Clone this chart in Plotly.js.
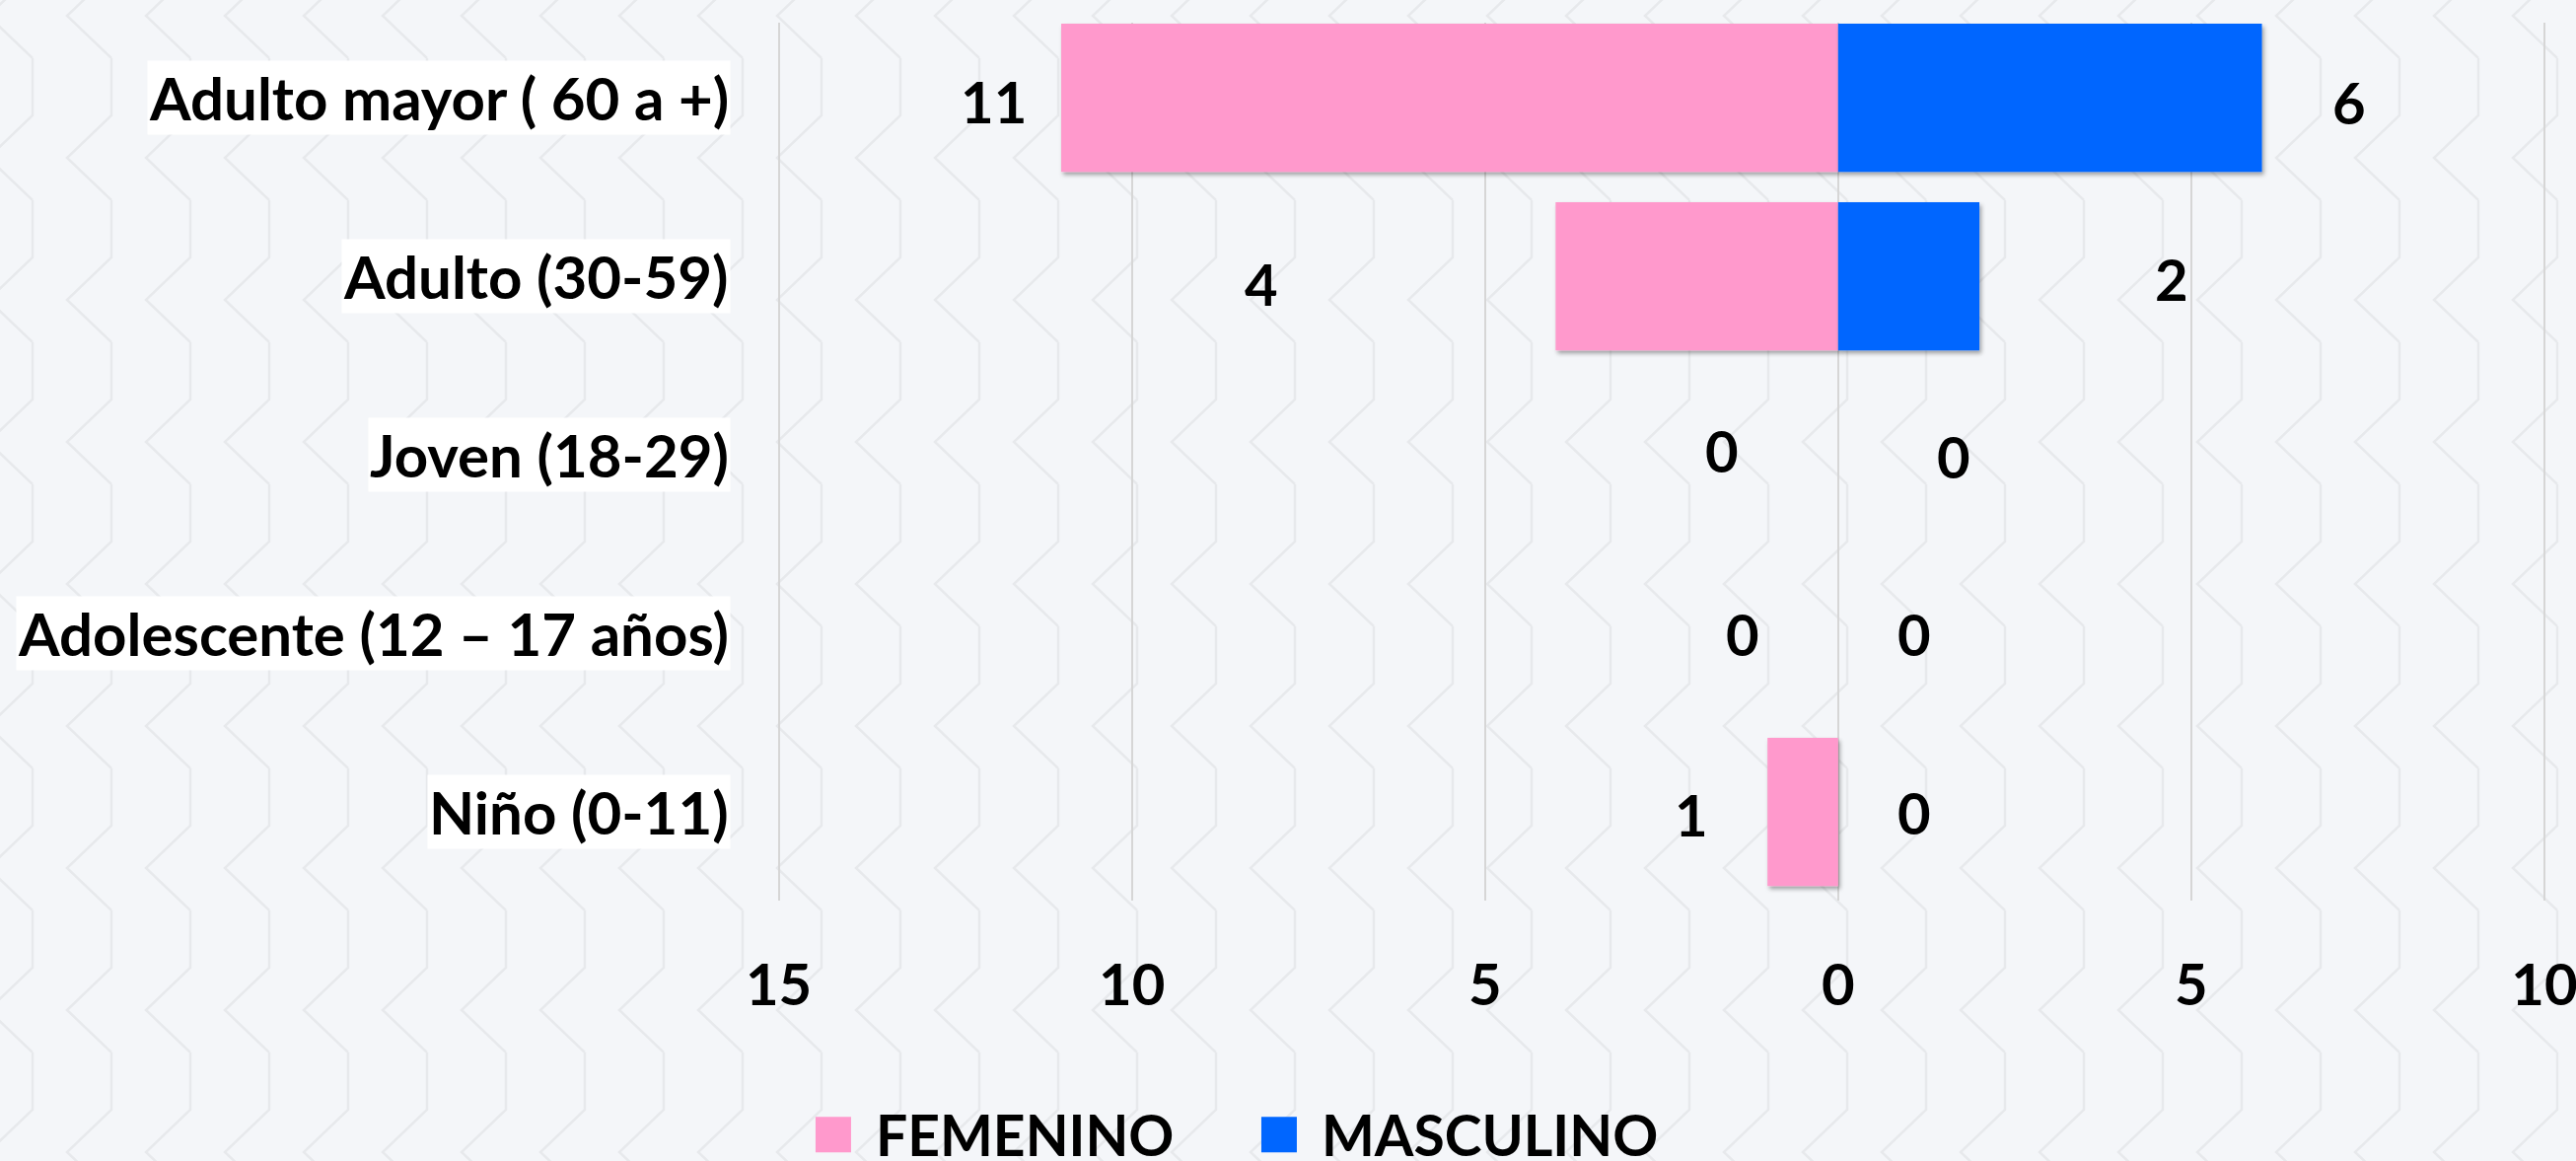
<!DOCTYPE html>
<html>
<head>
<meta charset="utf-8">
<script src="https://cdn.plot.ly/plotly-3.0.1.min.js"></script>
<style>
html, body { margin: 0; padding: 0; width: 2612px; height: 1177px; overflow: hidden; }
body {
  background-color: #f4f6f9;
  background-image: url("data:image/svg+xml,%3Csvg xmlns='http://www.w3.org/2000/svg' width='80' height='144'%3E%3Cpath d='M53,0 V58 L8,101 L53,144' fill='none' stroke='%23e7e9ec' stroke-width='2.5'/%3E%3C/svg%3E");
  background-position: 60px 59px;
}
#chart { width: 2612px; height: 1177px; }
</style>
</head>
<body>
<div id="chart"></div>
<script>
// ---- data ----
const categories = ['Niño (0-11)', 'Adolescente (12 – 17 años)', 'Joven (18-29)', 'Adulto (30-59)', 'Adulto mayor ( 60 a +)'];
const femenino = [1, 0, 0, 4, 11];
const masculino = [0, 0, 0, 2, 6];
const tickValues = [-15, -10, -5, 0, 5, 10];
const tickLabels = ['15', '10', '5', '0', '5', '10'];
const seriesNames = ['FEMENINO', 'MASCULINO'];

// ---- style ----
const femColor = '#FF99CC';
const mascColor = '#0066FF';
const FONT = { family: 'Lato, "Open Sans", sans-serif', size: 58, weight: 700, color: '#000000' };
const CAT_FONT = { family: 'Lato, "Open Sans", sans-serif', size: 60, weight: 700, color: '#000000' };
const LEG_FONT = { family: 'Lato, "Open Sans", sans-serif', size: 57, weight: 700, color: '#000000' };
// label offsets in pixels [dx, dy] (manual placement as in the original)
const femLabelShift = [[-77, -2], [-97, 0], [-118, 5], [-298, -7], [-69, -3]];
const mascLabelShift = [[77, 0], [77, 0], [117, -1], [195, -2], [88, -4]];

const traces = [
  {
    type: 'bar', orientation: 'h', name: seriesNames[0],
    y: categories, x: femenino.map(v => -v),
    marker: { color: femColor, line: { width: 0 } },
    width: 0.83, hoverinfo: 'skip'
  },
  {
    type: 'bar', orientation: 'h', name: seriesNames[1],
    y: categories, x: masculino,
    marker: { color: mascColor, line: { width: 0 } },
    width: 0.83, hoverinfo: 'skip'
  }
];

const annotations = [];
categories.forEach((c, i) => {
  annotations.push({
    xref: 'paper', x: 0, xanchor: 'right', xshift: -45,
    yref: 'y', y: c, yanchor: 'middle',
    text: c, showarrow: false, bgcolor: '#ffffff', borderpad: 1,
    font: CAT_FONT
  });
  annotations.push({
    xref: 'x', x: -femenino[i], yref: 'y', y: c,
    xshift: femLabelShift[i][0], yshift: femLabelShift[i][1],
    text: String(femenino[i]), showarrow: false, font: FONT
  });
  annotations.push({
    xref: 'x', x: masculino[i], yref: 'y', y: c,
    xshift: mascLabelShift[i][0], yshift: mascLabelShift[i][1],
    text: String(masculino[i]), showarrow: false, font: FONT
  });
});

const layout = {
  width: 2612, height: 1177,
  margin: { l: 786, r: 0, t: 23, b: 264, pad: 0, autoexpand: false },
  paper_bgcolor: 'rgba(0,0,0,0)',
  plot_bgcolor: 'rgba(0,0,0,0)',
  barmode: 'relative',
  showlegend: true,
  font: FONT,
  xaxis: {
    range: [-15.05, 10.447],
    tickmode: 'array', tickvals: tickValues, ticktext: tickLabels,
    showgrid: true, gridcolor: '#d6d6d6', gridwidth: 2,
    zeroline: false, showline: false, ticks: '',
    ticklabelstandoff: 47, ticklabeloverflow: 'allow',
    tickfont: FONT, fixedrange: true
  },
  yaxis: {
    type: 'category', categoryorder: 'array', categoryarray: categories,
    range: [-0.497, 4.42],
    showticklabels: false, showgrid: false, zeroline: false, showline: false, ticks: '',
    fixedrange: true
  },
  legend: {
    orientation: 'h', x: 0.0175, xanchor: 'left', y: -0.267, yanchor: 'middle',
    font: LEG_FONT, bgcolor: 'rgba(0,0,0,0)', entrywidth: 377, itemwidth: 60, traceorder: 'normal'
  },
  annotations: annotations
};

Plotly.newPlot('chart', traces, layout, { displayModeBar: false, staticPlot: true }).then(() => {
  const ns = 'http://www.w3.org/2000/svg';
  const svg = document.querySelector('#chart .main-svg');
  let defs = svg.querySelector('defs');
  if (!defs) { defs = document.createElementNS(ns, 'defs'); svg.insertBefore(defs, svg.firstChild); }
  const f = document.createElementNS(ns, 'filter');
  f.setAttribute('id', 'barShadow');
  f.setAttribute('x', '-10%'); f.setAttribute('y', '-10%');
  f.setAttribute('width', '125%'); f.setAttribute('height', '125%');
  const ds = document.createElementNS(ns, 'feDropShadow');
  ds.setAttribute('dx', '2'); ds.setAttribute('dy', '3'); ds.setAttribute('stdDeviation', '2');
  ds.setAttribute('flood-color', '#000'); ds.setAttribute('flood-opacity', '0.35');
  f.appendChild(ds); defs.appendChild(f);
  document.querySelectorAll('#chart .bars .point path').forEach(p => p.setAttribute('filter', 'url(#barShadow)'));
  document.querySelectorAll('#chart .legend .traces').forEach(g => {
    const t = g.querySelector('text.legendtext');
    const tx = parseFloat(t.getAttribute('x')) || 70;
    g.querySelectorAll('.legendpoints path').forEach(p => {
      p.setAttribute('d', 'M18,18H-18V-18H18Z');
      p.setAttribute('transform', 'translate(' + (tx - 25 - 18) + ',0)');
    });
  });
});
</script>
</body>
</html>
